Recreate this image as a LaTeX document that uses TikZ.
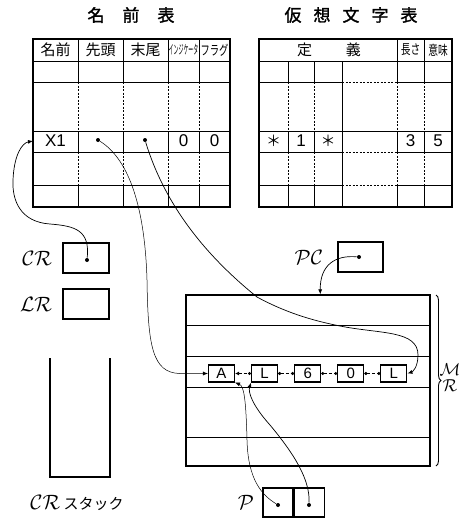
\documentclass[tikz,border=0pt]{standalone}
\usepackage{fontspec}
\usepackage{amsmath}
\setsansfont{Liberation Sans}
\newfontfamily\jp{Noto Sans CJK JP}
\newfontfamily\jpb[FakeBold=1.6]{Noto Sans CJK JP}
\usetikzlibrary{arrows.meta, positioning, calc, decorations.pathreplacing}

\begin{document}
\begin{tikzpicture}[
  x=1pt, y=-1pt, line width=0.9pt,
  grid/.style={line width=0.9pt},
  dgrid/.style={line width=0.8pt, dash pattern=on 2pt off 1.5pt},
  frame/.style={line width=1.3pt},
  ttl/.style={font=\jpb\fontsize{17}{17}\selectfont},
  hdr/.style={font=\jp\fontsize{15}{15}\selectfont, inner sep=0pt},
  val/.style={font=\sffamily\fontsize{17}{17}\selectfont, inner sep=0pt},
  lbl/.style={font=\fontsize{20}{20}\selectfont, inner sep=0pt},
  reg/.style={draw, line width=1.1pt, minimum width=46pt,
              minimum height=30pt, inner sep=0pt},
  pbox/.style={draw, line width=1.1pt, minimum width=30pt,
               minimum height=29pt, inner sep=0pt},
  cell/.style={draw, line width=1.1pt, minimum width=26pt,
               minimum height=17pt, inner sep=0pt,
               font=\sffamily\fontsize{15}{15}\selectfont},
  dot/.style={circle, fill, inner sep=0pt, minimum size=4pt},
  ptr/.style={-{Latex[length=5pt,width=4pt]}, line width=0.7pt},
  lnk/.style={densely dashed, line width=0.9pt,
              {Circle[length=3pt]}-{Circle[length=3pt]}}
]
  \useasboundingbox (0,0) rectangle (461,520);

  %--- titles ---
  \node[ttl] (ttlname) at (131,15) {名\hspace{18pt}前\hspace{18pt}表};
  \node[ttl] (ttlvirt) at (351,15)
    {仮\hspace{12pt}想\hspace{12pt}文\hspace{12pt}字\hspace{12pt}表};

  %--- name table ---
  \foreach \y in {61,82,131,152,185}
    \draw[grid] (33,\y) -- (230,\y);
  \foreach \x in {78,123,168,199} {
    \draw[grid]  (\x,39)  -- (\x,82);
    \draw[dgrid] (\x,82)  -- (\x,131);
    \draw[grid]  (\x,131) -- (\x,152);
    \draw[dgrid] (\x,152) -- (\x,185);
    \draw[grid]  (\x,185) -- (\x,207);
  }
  \draw[frame] (33,39) rectangle (230,207);

  \node[hdr] (hname) at (55.5,50)  {名前};
  \node[hdr] (hhead) at (100.5,50) {先頭};
  \node[hdr] (htail) at (145.5,50) {末尾};
  \node[hdr] (hind)  at (183.5,50)
    {\scalebox{0.33}[0.85]{インジケータ}};
  \node[hdr] (hflag) at (214.5,50) {\scalebox{0.62}[0.9]{フラグ}};

  \node[val] (vname) at (55.5,141) {X1};
  \node[dot] (head)  at (98,140)   {};
  \node[dot] (tail)  at (145,140)  {};
  \node[val] (vind)  at (183.5,141) {0};
  \node[val] (vflag) at (214.5,141) {0};
  \coordinate (x1) at (33,141);

  %--- virtual string table ---
  \foreach \y in {61,131}
    \draw[grid] (259,\y) -- (452,\y);
  \foreach \y in {82,152,185} {
    \draw[grid]  (259,\y) -- (342,\y);
    \draw[dgrid] (342,\y) -- (397,\y);
    \draw[grid]  (397,\y) -- (452,\y);
  }
  \foreach \x in {288,314} {
    \draw[grid]  (\x,61)  -- (\x,82);
    \draw[dgrid] (\x,82)  -- (\x,131);
    \draw[grid]  (\x,131) -- (\x,152);
    \draw[dgrid] (\x,152) -- (\x,185);
    \draw[grid]  (\x,185) -- (\x,207);
  }
  \draw[grid] (342,61) -- (342,207);
  \foreach \x in {397,424} {
    \draw[grid]  (\x,39)  -- (\x,82);
    \draw[dgrid] (\x,82)  -- (\x,131);
    \draw[grid]  (\x,131) -- (\x,152);
    \draw[dgrid] (\x,152) -- (\x,185);
    \draw[grid]  (\x,185) -- (\x,207);
  }
  \draw[frame] (259,39) rectangle (452,207);

  \node[hdr] (hdef)  at (329,50)   {定\hspace{34pt}義};
  \node[hdr] (hlen)  at (410.5,50) {\scalebox{0.65}[0.9]{長さ}};
  \node[hdr] (hsem)  at (438,50)   {\scalebox{0.65}[0.9]{意味}};

  \node[hdr] (vs1) at (273.5,141) {＊};
  \node[val] (vs2) at (301,141)   {1};
  \node[hdr] (vs3) at (328,141)   {＊};
  \node[val] (vlen) at (410.5,141) {3};
  \node[val] (vsem) at (438,141)   {5};

  %--- registers ---
  \node[reg] (cr) at (86,258) {};
  \node[dot] (crdot) at (87,260) {};
  \node[lbl, left=10pt of cr] (crlbl) {$\mathcal{CR}$};
  \node[reg] (lr) at (86,304) {};
  \node[lbl, left=10pt of lr] (lrlbl) {$\mathcal{LR}$};

  \node[reg, minimum width=45pt] (pc) at (360.5,257) {};
  \node[dot] (pcdot) at (359,257) {};
  \node[lbl, left=14pt of pc] (pclbl) {$\mathcal{PC}$};

  %--- CR stack ---
  \draw[line width=1.1pt] (50,358) -- (50,477) -- (110,477) -- (110,358);
  \node[lbl] (stklbl) at (77,503)
    {$\mathcal{CR}$\,{\jp\fontsize{15}{15}\selectfont スタック}};

  %--- MR ---
  \node[draw, line width=1.3pt, minimum width=244pt, minimum height=171pt,
        inner sep=0pt] (mr) at (308,380.5) {};
  \foreach \y in {325,356,387,437}
    \draw[grid] (mr.west |- 0,\y) -- (mr.east |- 0,\y);
  \draw[line width=0.9pt, decorate, decoration={brace, amplitude=5pt}]
    (436,295) -- (436,466);
  \node[lbl, font=\fontsize{16}{16}\selectfont] (mlbl) at (450,370) {$\mathcal{M}$};
  \node[lbl, font=\fontsize{16}{16}\selectfont] (rlbl) at (450,386) {$\mathcal{R}$};

  \node[cell] (c1) at (221.5,373.5) {A};
  \node[cell, right=16pt of c1] (c2) {L};
  \node[cell, right=16pt of c2] (c3) {6};
  \node[cell, right=16pt of c3] (c4) {0};
  \node[cell, right=16pt of c4] (c5) {L};
  \draw[densely dashed, line width=0.9pt,
        {Latex[length=4pt,width=4pt]}-{Circle[length=3pt]}] (c1) -- (c2);
  \foreach \a/\b in {c2/c3, c3/c4, c4/c5}
    \draw[lnk] (\a) -- (\b);

  %--- P ---
  \node[pbox] (p1) at (278,502.5) {};
  \node[pbox, right=0pt of p1] (p2) {};
  \node[dot] (p1dot) at (278,505) {};
  \node[dot] (p2dot) at (309,505) {};
  \node[lbl, left=8pt of p1] (plbl) {$\mathcal{P}$};

  %--- pointers ---
  \draw[ptr] (crdot) .. controls (90,230) and (75,226) .. (50,224)
    .. controls (20,222) and (12,200) .. (13,180)
    .. controls (14,155) and (22,143) .. (x1);
  \draw[ptr, line width=0.5pt] (head) .. controls (130,160) and (145,210)
    .. (147,280) .. controls (148,345) and (152,373) .. (180,373.5)
    -- (c1.west);
  \draw[ptr] (tail) .. controls (165,205) and (205,255) .. (257,297)
    .. controls (290,315) and (320,322) .. (340,326)
    .. controls (380,334) and (418,330) .. (418,355)
    .. controls (418,368) and (412,372) .. (c5.east);
  \draw[ptr] (pcdot) .. controls (335,255) and (320,265)
    .. ($(mr.north west)!0.55!(mr.north east)$);
  \draw[ptr, line width=0.5pt] (p1dot) .. controls (262,495) and (248,480)
    .. (247,440) .. controls (246,400) and (244,386) .. (c1.south east);
  \draw[ptr] (p2dot) .. controls (310,480) and (295,455) .. (270,425)
    .. controls (252,405) and (248,392) .. (c2.south west);
\end{tikzpicture}
\end{document}
